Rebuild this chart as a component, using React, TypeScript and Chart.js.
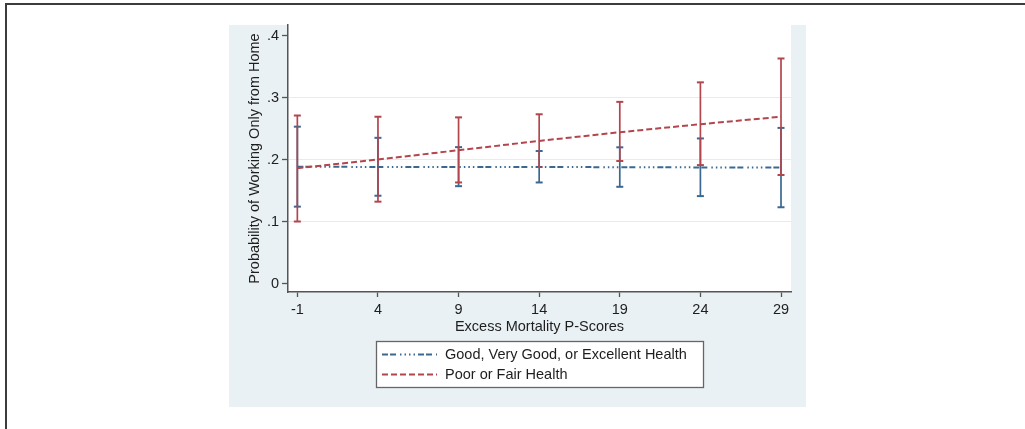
import { useEffect, useRef } from "react";
import { Chart, registerables } from "chart.js";

Chart.register(...registerables);

// ---------- data ----------
const xValues = [-1, 4, 9, 14, 19, 24, 29];

const goodEst = [0.1884, 0.188, 0.188, 0.188, 0.1876, 0.1873, 0.1872];
const goodLo = [0.124, 0.1416, 0.157, 0.163, 0.156, 0.141, 0.123];
const goodHi = [0.253, 0.235, 0.22, 0.2137, 0.2197, 0.234, 0.251];

const poorEst = [0.186, 0.2, 0.215, 0.23, 0.244, 0.257, 0.269];
const poorLo = [0.1, 0.132, 0.163, 0.188, 0.1976, 0.191, 0.175];
const poorHi = [0.271, 0.269, 0.268, 0.273, 0.293, 0.3245, 0.363];

const seriesLabels = ["Good, Very Good, or Excellent Health", "Poor or Fair Health"];
const xTickValues = [-1, 4, 9, 14, 19, 24, 29];
const yTickValues = [0, 0.1, 0.2, 0.3, 0.4];
const yTickLabels = ["0", ".1", ".2", ".3", ".4"];
const yGridValues = [0.1, 0.2, 0.3];
const xAxisTitle = "Excess Mortality P-Scores";
const yAxisTitle = "Probability of Working Only from Home";

// ---------- style ----------
const BLUE = "#3a6891";
const RED = "#b3454d";
const BLUE_DASH = [6, 2, 6, 4, 1.5, 3, 1.5, 3, 1.5, 3, 1.5, 3];
const RED_DASH = [6, 3];
const FONT = "'Liberation Sans', Arial, sans-serif";
const FS = 14.5;
const TEXT = "#1e1e1e";

const ciDatasets = (lo: number[], hi: number[], color: string, order: number) =>
  xValues.map((x, i) => ({
    type: "line" as const,
    data: [
      { x, y: lo[i] },
      { x, y: hi[i] },
    ],
    borderColor: color,
    backgroundColor: color,
    borderWidth: 1.7,
    showLine: true,
    pointStyle: "line" as const,
    pointRadius: 3.5,
    pointBorderWidth: 2,
    pointBorderColor: color,
    order,
  }));

const bgPlugin = {
  id: "bgPlugin",
  beforeDraw(chart: any) {
    const { ctx, chartArea: a, width, height } = chart;
    ctx.save();
    ctx.fillStyle = "#ffffff";
    ctx.fillRect(0, 0, width, height);
    // outer frame
    ctx.strokeStyle = "#3c3c3c";
    ctx.lineWidth = 2;
    ctx.beginPath();
    ctx.moveTo(width + 2, 4);
    ctx.lineTo(6, 4);
    ctx.lineTo(6, height + 2);
    ctx.stroke();
    // graph region panel
    ctx.fillStyle = "#e9f1f4";
    ctx.fillRect(229, 25, 806 - 229, 407 - 25);
    // plot region
    ctx.fillStyle = "#ffffff";
    ctx.fillRect(a.left, a.top, a.right - a.left, a.bottom - a.top);
    ctx.restore();
  },
};

const legendPlugin = {
  id: "legendPlugin",
  afterDraw(chart: any) {
    const { ctx } = chart;
    const bx = 376, by = 341, bw = 327, bh = 46;
    ctx.save();
    ctx.fillStyle = "#ffffff";
    ctx.fillRect(bx, by, bw, bh);
    ctx.strokeStyle = "#666666";
    ctx.lineWidth = 1.3;
    ctx.strokeRect(bx + 0.5, by + 0.5, bw, bh);
    const rows = [
      { label: seriesLabels[0], color: BLUE, dash: BLUE_DASH, y: 354.5 },
      { label: seriesLabels[1], color: RED, dash: RED_DASH, y: 374.5 },
    ];
    rows.forEach((r) => {
      ctx.strokeStyle = r.color;
      ctx.lineWidth = 1.8;
      ctx.setLineDash(r.dash);
      ctx.beginPath();
      ctx.moveTo(382, r.y);
      ctx.lineTo(437, r.y);
      ctx.stroke();
      ctx.setLineDash([]);
      ctx.fillStyle = TEXT;
      ctx.font = `${FS}px ${FONT}`;
      ctx.textBaseline = "middle";
      ctx.textAlign = "left";
      ctx.fillText(r.label, 445, r.y);
    });
    ctx.restore();
  },
};

export default function App() {
  const ref = useRef<HTMLCanvasElement | null>(null);

  useEffect(() => {
    if (!ref.current) return;
    Chart.defaults.font.family = FONT;
    const chart = new Chart(ref.current, {
      type: "scatter",
      data: {
        datasets: [
          {
            type: "line",
            label: seriesLabels[1],
            data: xValues.map((x, i) => ({ x, y: poorEst[i] })),
            borderColor: RED,
            borderWidth: 2,
            borderDash: RED_DASH,
            pointRadius: 0,
            showLine: true,
            order: 0,
          },
          {
            type: "line",
            label: seriesLabels[0],
            data: xValues.map((x, i) => ({ x, y: goodEst[i] })),
            borderColor: BLUE,
            borderWidth: 2,
            borderDash: BLUE_DASH,
            pointRadius: 0,
            showLine: true,
            order: 0,
          },
          ...ciDatasets(poorLo, poorHi, RED, 1),
          ...ciDatasets(goodLo, goodHi, BLUE, 2),
        ] as any,
      },
      options: {
        responsive: false,
        devicePixelRatio: 1,
        animation: false,
        events: [],
        layout: { padding: { left: 229, top: 25, right: 234, bottom: 0 } },
        plugins: { legend: { display: false }, tooltip: { enabled: false } },
        scales: {
          x: {
            type: "linear",
            min: -1.58,
            max: 29.62,
            afterBuildTicks: (axis: any) => {
              axis.ticks = xTickValues.map((v) => ({ value: v }));
            },
            afterFit: (axis: any) => {
              axis.height = 429 - 292;
            },
            grid: {
              drawOnChartArea: false,
              drawTicks: true,
              tickLength: 5,
              tickColor: "#555555",
              tickWidth: 1.3,
            },
            border: { display: true, color: "#555555", width: 1.5 },
            ticks: {
              padding: 4,
              color: TEXT,
              font: { size: FS, family: FONT },
              maxRotation: 0,
              autoSkip: false,
              callback: (v: any) => String(v),
            },
            title: {
              display: true,
              text: xAxisTitle,
              color: TEXT,
              font: { size: FS, family: FONT },
              padding: { top: 0, bottom: 93 },
            },
          },
          y: {
            type: "linear",
            min: -0.0137,
            max: 0.417,
            afterBuildTicks: (axis: any) => {
              axis.ticks = yTickValues.map((v) => ({ value: v }));
            },
            afterFit: (axis: any) => {
              axis.width = 288 - 229;
            },
            grid: {
              drawOnChartArea: true,
              drawTicks: true,
              tickLength: 6,
              tickColor: "#555555",
              tickWidth: 1.3,
              lineWidth: 1,
              color: (c: any) =>
                c.tick && yGridValues.some((g) => Math.abs(g - c.tick.value) < 1e-9)
                  ? "#e3ecef"
                  : "rgba(0,0,0,0)",
            },
            border: { display: true, color: "#555555", width: 1.5 },
            ticks: {
              padding: 3,
              color: TEXT,
              font: { size: FS, family: FONT },
              autoSkip: false,
              callback: (_v: any, i: number) => yTickLabels[i],
            },
            title: {
              display: true,
              text: yAxisTitle,
              color: TEXT,
              font: { size: FS, family: FONT },
              padding: { top: 16.8, bottom: 0 },
            },
          },
        },
      },
      plugins: [bgPlugin, legendPlugin],
    } as any);
    return () => chart.destroy();
  }, []);

  return (
    <div style={{ position: "fixed", left: 0, top: 0, width: 1025, height: 429 }}>
      <canvas ref={ref} width={1025} height={429} style={{ width: 1025, height: 429, display: "block" }} />
    </div>
  );
}
